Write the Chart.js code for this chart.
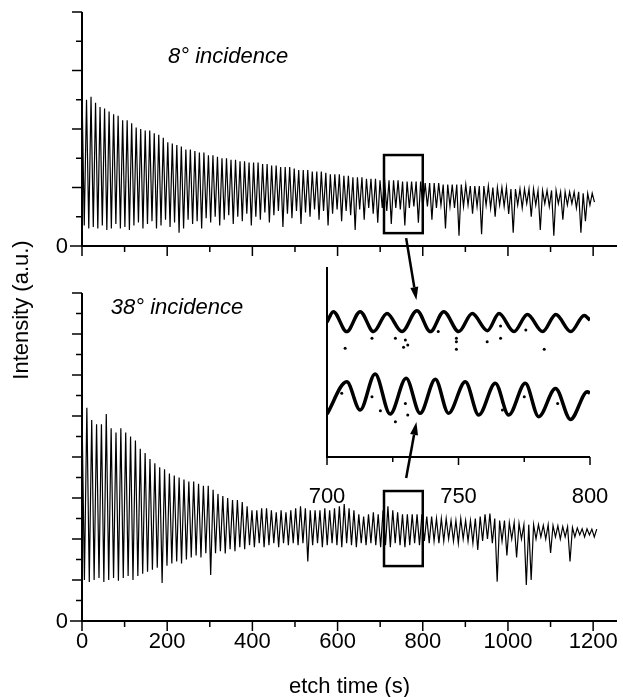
<!DOCTYPE html>
<html>
<head>
<meta charset="utf-8">
<script src="https://cdn.jsdelivr.net/npm/chart.js@4.4.1/dist/chart.umd.min.js"></script>
<style>
  html, body { margin: 0; padding: 0; background: #fff; }
  #wrap { position: relative; width: 623px; height: 697px; }
  #wrap canvas { position: absolute; left: 0; top: 0; }
</style>
</head>
<body>
<div id="wrap">
  <canvas id="topChart" width="623" height="697"></canvas>
  <canvas id="bottomChart" width="623" height="697"></canvas>
  <canvas id="insetChart" width="623" height="697"></canvas>
</div>
<script>
// oscillation period of each trace (s)
const topPeriod = 10.6;
const bottomPeriod = 11.4;

// 8 deg incidence: maxima and minima of each oscillation
const topPeaks = [5.3,5.0,5.1,4.9,4.75,4.7,4.6,4.5,4.45,4.3,
  4.3,4.2,4.05,4.0,3.95,3.95,3.85,3.8,3.7,3.55,
  3.5,3.45,3.4,3.3,3.3,3.25,3.2,3.2,3.1,3.1,
  3.05,3.0,3.0,2.95,2.95,2.9,2.9,2.85,2.85,2.85,
  2.8,2.8,2.75,2.75,2.7,2.7,2.7,2.65,2.6,2.6,
  2.6,2.55,2.55,2.55,2.5,2.45,2.45,2.45,2.4,2.4,
  2.35,2.35,2.35,2.3,2.3,2.3,2.25,2.3,2.25,2.25,
  2.25,2.2,2.2,2.2,2.2,2.2,2.15,2.15,2.15,2.15,
  2.1,2.1,2.1,2.1,2.1,2.1,2.05,2.05,2.05,2.05,
  2.05,2.0,2.0,2.0,2.0,1.95,1.95,1.95,1.95,1.95,
  1.95,1.9,1.9,1.9,1.9,1.9,1.85,1.85,1.85,1.85,
  1.85,1.8,1.8,1.8];
const topTroughs = [0.7,0.6,0.65,0.6,0.7,0.55,0.6,0.75,0.6,0.65,
  0.55,0.7,0.8,0.6,0.75,0.85,0.6,0.7,0.9,0.65,
  0.8,0.45,0.6,0.9,0.75,0.85,0.6,0.95,0.8,1.0,
  0.7,0.9,1.05,0.75,1.0,0.85,1.1,0.7,1.0,0.9,
  1.15,0.8,1.05,1.2,0.65,1.1,0.95,1.2,0.75,1.15,
  1.0,1.25,0.9,1.2,0.7,1.1,1.25,0.85,1.2,1.05,
  0.55,1.25,0.9,1.3,1.1,0.8,1.3,1.2,0.75,1.3,
  1.25,0.7,1.3,1.35,0.8,1.3,1.35,0.9,1.3,1.4,
  0.6,1.35,1.3,0.35,1.35,1.4,1.1,1.35,0.4,1.4,
  1.3,1.0,1.4,1.35,1.1,0.45,1.4,1.3,1.45,1.0,
  1.4,0.55,1.45,1.35,0.35,1.45,0.9,1.4,1.45,1.3,
  0.45,0.85,1.4,1.5];

// 38 deg incidence
const bottomPeaks = [5.1,5.2,4.9,4.8,4.8,5.05,4.7,4.6,4.7,4.6,
  4.5,4.4,4.2,4.1,3.95,3.85,3.75,3.7,3.6,3.55,
  3.5,3.45,3.4,3.4,3.35,3.3,3.3,3.2,3.1,3.05,
  3.0,2.95,2.95,2.9,2.8,2.7,2.7,2.75,2.75,2.7,
  2.65,2.7,2.65,2.7,2.75,2.8,2.75,2.7,2.7,2.7,
  2.75,2.7,2.75,2.8,2.85,2.75,2.7,2.6,2.55,2.6,
  2.65,2.6,2.7,2.8,2.7,2.65,2.6,2.6,2.6,2.6,
  2.6,2.55,2.55,2.5,2.5,2.5,2.45,2.45,2.5,2.45,
  2.45,2.5,2.55,2.6,2.62,2.5,2.45,2.45,2.4,2.4,
  2.38,2.35,2.35,2.35,2.35,2.33,2.35,2.33,2.32,2.3,
  2.3,2.28,2.27,2.25,2.25,2.24,2.24];
const bottomTroughs = [1.0,0.95,1.0,1.05,0.95,1.0,1.05,0.98,1.05,1.1,
  1.0,1.1,1.15,1.2,1.25,1.3,0.93,1.35,1.4,1.45,
  1.4,1.5,1.55,1.6,1.55,1.65,1.12,1.65,1.7,1.65,
  1.75,1.7,1.8,1.75,1.85,1.8,1.9,1.8,1.85,1.9,
  1.8,1.9,1.85,1.9,1.85,1.9,1.45,1.85,1.9,1.8,
  1.85,1.9,1.85,1.8,1.9,1.85,1.8,1.9,1.85,1.9,
  1.85,1.8,1.85,1.8,1.9,1.85,1.8,1.85,1.9,1.85,
  1.95,1.9,1.95,1.9,1.95,2.0,1.95,1.9,2.0,1.95,
  1.9,1.73,1.95,2.0,1.9,0.96,1.95,1.6,2.0,1.55,
  2.0,0.88,1.0,2.0,2.05,2.0,1.66,2.05,2.0,2.05,
  1.45,2.05,2.1,2.05,2.1,2.05];

// inset, 700-800 s (arbitrary units)
const insetTopTimes = [700,702.4,707.5,712.6,717.7,722.8,728.5,734.2,739.3,744.4,750.1,
  755.2,761,765.4,771.1,776.2,782,787,792.7,797.8,800];
const insetTopValues = [71,76.5,66,76.5,66,75.5,66,77,66,76.5,66,
  75.5,66.5,75.5,66,75,66,75,66,74.5,72];
const insetBottomTimes = [700,707.5,712.6,718.3,724,730.1,735.4,741.2,746.2,752.6,
  757.7,764,769.1,775.4,780.5,786.9,792.6,799,800];
const insetBottomValues = [22.6,39.6,24.7,43.7,22.6,41.4,23,40.9,23,39.6,
  22.1,38.8,22.1,38.8,21.2,36.1,19.8,34.4,33.5];
const insetDotTimes = [706.9,717.1,726,729.8,730.7,729.1,742.3,749.2,749.2,749.2,760.9,766,766,775.6,782.6,
  705.6,717.1,720.3,726,729.8,730.7,766.7,766.7,775,787.7];
const insetDotValues = [57.2,62.5,62.5,61.6,58.9,57.7,66,62.5,60.7,56.7,60.7,68.9,62.5,66.8,56.7,
  33.5,31.7,24.4,18.6,28.2,22.1,29.1,24.7,31.7,28.2];

const timeTicks = [0,100,200,300,400,500,600,700,800,900,1000,1100,1200];
const timeLabels = [0,200,400,600,800,1000,1200];
const topYTicks = [0,1,2,3,4,5,6,7,8];
const topYMajor = [0,2,4,6,8];
const bottomYTicks = [0,0.5,1,1.5,2,2.5,3,3.5,4,4.5,5,5.5,6,6.5,7,7.5,8];
const bottomYMajor = [0,1,2,3,4,5,6,7,8];
const insetTicks = [700,725,750,775,800];
const insetLabels = [700,750,800];

const FONT = '"Liberation Sans", Arial, Helvetica, sans-serif';

function zigzag(peaks, troughs, period) {
    const pts = [];
    peaks.forEach((p, i) => {
        pts.push({x: i * period, y: p});
        if (i < troughs.length) pts.push({x: (i + 0.5) * period, y: troughs[i]});
    });
    return pts;
}

function pairs(xs, ys) {
    return xs.map((x, i) => ({x: x, y: ys[i]}));
}

function line(ctx, x0, y0, x1, y1) {
    ctx.beginPath();
    ctx.moveTo(x0, y0);
    ctx.lineTo(x1, y1);
    ctx.stroke();
}

function arrow(ctx, x0, y0, x1, y1) {
    const ang = Math.atan2(y1 - y0, x1 - x0);
    const len = 13, half = 4;
    const bx = x1 - len * Math.cos(ang), by = y1 - len * Math.sin(ang);
    ctx.lineWidth = 2.5;
    line(ctx, x0, y0, bx, by);
    ctx.beginPath();
    ctx.moveTo(x1, y1);
    ctx.lineTo(bx + half * Math.sin(ang), by - half * Math.cos(ang));
    ctx.lineTo(bx - half * Math.sin(ang), by + half * Math.cos(ang));
    ctx.closePath();
    ctx.fill();
}

// spines, ticks and tick labels, drawn from the chart's own scales
const axesPlugin = {
    id: 'axes',
    afterDatasetsDraw(chart, args, o) {
        const ctx = chart.ctx, a = chart.chartArea;
        const xs = chart.scales.x, ys = chart.scales.y;
        ctx.save();
        ctx.strokeStyle = '#000';
        ctx.fillStyle = '#000';
        ctx.lineWidth = 2;
        ctx.beginPath();
        ctx.moveTo(a.left, a.top);
        ctx.lineTo(a.left, a.bottom);
        ctx.lineTo(a.right, a.bottom);
        ctx.stroke();
        ctx.lineWidth = 1.5;
        o.xTicks.forEach(v => {
            const px = xs.getPixelForValue(v);
            line(ctx, px, a.bottom, px, a.bottom + (o.xMajor.includes(v) ? o.major : o.minor));
        });
        (o.yTicks || []).forEach(v => {
            const py = ys.getPixelForValue(v);
            line(ctx, a.left, py, a.left - (v === 0 ? 12 : o.yMajor.includes(v) ? o.major : o.minor), py);
        });
        ctx.font = '22px ' + FONT;
        ctx.textAlign = 'center';
        ctx.textBaseline = 'middle';
        (o.xLabels || []).forEach(v => ctx.fillText(String(v), xs.getPixelForValue(v), a.bottom + o.xLabelGap));
        if (o.zeroLabel) {
            ctx.textAlign = 'right';
            ctx.fillText('0', a.left - 14, ys.getPixelForValue(0) + 1);
        }
        ctx.restore();
    }
};

// zoom box, panel caption and axis titles
const notesPlugin = {
    id: 'notes',
    afterDraw(chart, args, o) {
        const ctx = chart.ctx;
        const xs = chart.scales.x, ys = chart.scales.y;
        ctx.save();
        ctx.strokeStyle = '#000';
        ctx.fillStyle = '#000';
        if (o.box) {
            const x0 = xs.getPixelForValue(o.box[0]), x1 = xs.getPixelForValue(o.box[1]);
            const y0 = ys.getPixelForValue(o.box[2]), y1 = ys.getPixelForValue(o.box[3]);
            ctx.lineWidth = 2.5;
            ctx.strokeRect(x0, y1, x1 - x0, y0 - y1);
        }
        if (o.caption) {
            ctx.font = 'italic 22px ' + FONT;
            ctx.textAlign = 'center';
            ctx.textBaseline = 'middle';
            ctx.fillText(o.caption.text, xs.getPixelForValue(o.caption.x), ys.getPixelForValue(o.caption.y));
        }
        if (o.titles) {
            const a = chart.chartArea;
            ctx.font = '22px ' + FONT;
            ctx.textAlign = 'center';
            ctx.textBaseline = 'middle';
            ctx.fillText('etch time (s)', (a.left + a.right) / 2, a.bottom + 66);
            ctx.translate(22, 310);
            ctx.rotate(-Math.PI / 2);
            ctx.fillText('Intensity (a.u.)', 0, 0);
        }
        ctx.restore();
    }
};

function traceOptions(padding, yMax, axes, notes) {
    return {
        responsive: false,
        animation: false,
        events: [],
        layout: {padding: padding},
        plugins: {legend: {display: false}, tooltip: {enabled: false}, axes: axes, notes: notes},
        scales: {
            x: {type: 'linear', min: 0, max: 1256, display: false},
            y: {type: 'linear', min: 0, max: yMax, display: false}
        }
    };
}

const traceStyle = {borderColor: '#000', borderWidth: 1.2, pointRadius: 0, tension: 0, fill: false};

const topChart = new Chart(document.getElementById('topChart'), {
    type: 'line',
    data: {datasets: [Object.assign({data: zigzag(topPeaks, topTroughs, topPeriod)}, traceStyle)]},
    options: traceOptions({left: 82, right: 6, top: 12, bottom: 451}, 8,
        {xTicks: timeTicks, xMajor: timeLabels, yTicks: topYTicks, yMajor: topYMajor, major: 10, minor: 6, zeroLabel: true},
        {box: [709, 800, 0.44, 3.11], caption: {text: '8° incidence', x: 343, y: 6.46}}),
    plugins: [axesPlugin, notesPlugin]
});

const bottomChart = new Chart(document.getElementById('bottomChart'), {
    type: 'line',
    data: {datasets: [Object.assign({data: zigzag(bottomPeaks, bottomTroughs, bottomPeriod)}, traceStyle)]},
    options: traceOptions({left: 82, right: 6, top: 293, bottom: 76}, 8,
        {xTicks: timeTicks, xMajor: timeLabels, xLabels: timeLabels, xLabelGap: 21,
         yTicks: bottomYTicks, yMajor: bottomYMajor, major: 10, minor: 6, zeroLabel: true},
        {box: [709, 800, 1.34, 3.17], caption: {text: '38° incidence', x: 223, y: 7.63}, titles: true}),
    plugins: [axesPlugin, notesPlugin]
});

// arrows from the zoom boxes to the inset traces
const arrowPlugin = {
    id: 'arrows',
    afterDraw(chart) {
        const ctx = chart.ctx, xs = chart.scales.x, ys = chart.scales.y;
        ctx.save();
        ctx.strokeStyle = '#000';
        ctx.fillStyle = '#000';
        arrow(ctx, topChart.scales.x.getPixelForValue(761), topChart.scales.y.getPixelForValue(0.27),
            xs.getPixelForValue(734), ys.getPixelForValue(82.6));
        arrow(ctx, bottomChart.scales.x.getPixelForValue(761), bottomChart.scales.y.getPixelForValue(3.49),
            xs.getPixelForValue(734), ys.getPixelForValue(18.4));
        ctx.restore();
    }
};

const insetChart = new Chart(document.getElementById('insetChart'), {
    type: 'line',
    data: {
        datasets: [
            {data: pairs(insetTopTimes, insetTopValues), borderColor: '#000', borderWidth: 3.5,
             pointRadius: 0, cubicInterpolationMode: 'monotone', fill: false},
            {data: pairs(insetBottomTimes, insetBottomValues), borderColor: '#000', borderWidth: 3.5,
             pointRadius: 0, cubicInterpolationMode: 'monotone', fill: false},
            {data: pairs(insetDotTimes, insetDotValues), showLine: false, pointRadius: 1.5,
             pointBackgroundColor: '#000', pointBorderWidth: 0}
        ]
    },
    options: {
        responsive: false,
        animation: false,
        events: [],
        layout: {padding: {left: 327, right: 33, top: 267, bottom: 240}},
        plugins: {
            legend: {display: false}, tooltip: {enabled: false},
            axes: {xTicks: insetTicks, xMajor: insetLabels, xLabels: insetLabels, xLabelGap: 40, major: 8, minor: 5}
        },
        scales: {
            x: {type: 'linear', min: 700, max: 800, display: false},
            y: {type: 'linear', min: 0, max: 100, display: false}
        }
    },
    plugins: [axesPlugin, arrowPlugin]
});
</script>
</body>
</html>
